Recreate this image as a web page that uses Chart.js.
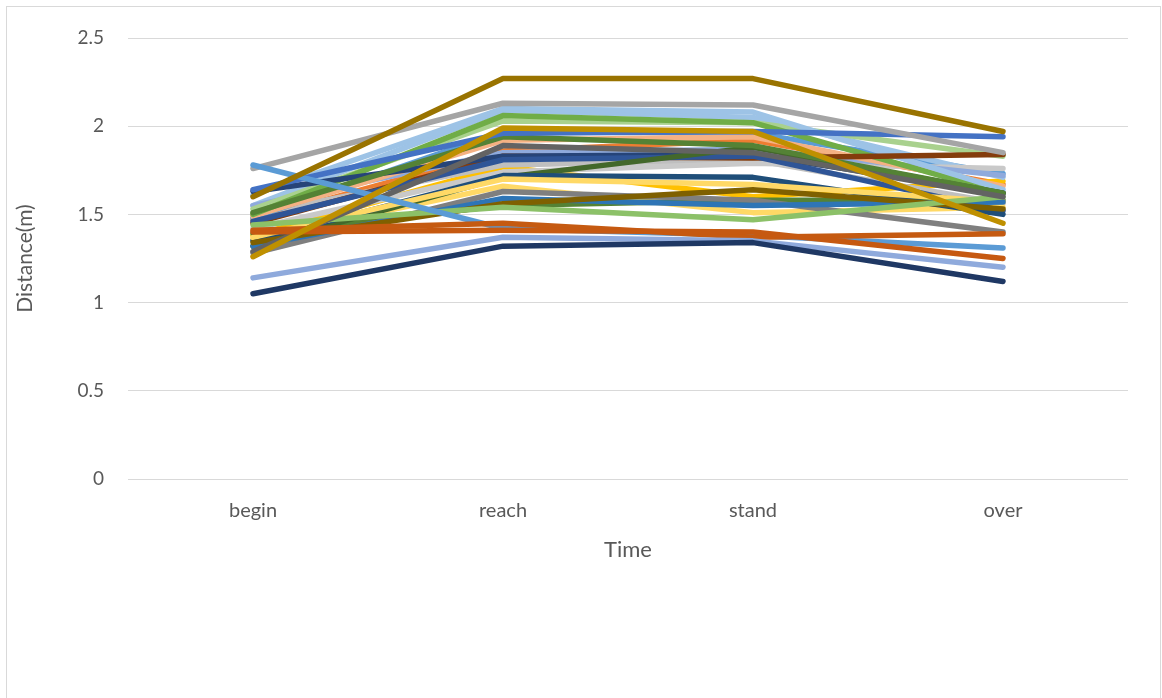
<!DOCTYPE html>
<html>
<head>
<meta charset="utf-8">
<script src="https://cdn.jsdelivr.net/npm/chart.js@4/dist/chart.umd.min.js"></script>
<style>
html,body{margin:0;padding:0;background:#fff;}
#wrap{width:1162px;height:698px;position:relative;}
</style>
</head>
<body>
<div id="wrap"><canvas id="c" width="1162" height="698"></canvas></div>
<script>
const categories = ['begin', 'reach', 'stand', 'over'];
const yTickLabels = ['0', '0.5', '1', '1.5', '2', '2.5'];
const xTitle = 'Time';
const yTitle = 'Distance(m)';

const s01 = [1.60, 2.27, 2.27, 1.97];
const s02 = [1.76, 2.13, 2.12, 1.85];
const s03 = [1.78, 1.42, 1.38, 1.31];
const s04 = [1.64, 1.96, 1.97, 1.94];
const s05 = [1.61, 2.10, 2.08, 1.64];
const s06 = [1.50, 2.06, 2.02, 1.62];
const s07 = [1.53, 2.03, 2.02, 1.83];
const s08 = [1.26, 1.99, 1.97, 1.45];
const s09 = [1.63, 1.83, 1.84, 1.62];
const s10 = [1.51, 1.94, 1.89, 1.62];
const s11 = [1.49, 1.92, 1.94, 1.66];
const s12 = [1.29, 1.89, 1.85, 1.60];
const s13 = [1.55, 1.85, 1.87, 1.72];
const s14 = [1.45, 1.83, 1.82, 1.84];
const s15 = [1.46, 1.81, 1.83, 1.52];
const s16 = [1.42, 1.74, 1.79, 1.76];
const s17 = [1.35, 1.72, 1.71, 1.50];
const s18 = [1.32, 1.71, 1.88, 1.62];
const s19 = [1.37, 1.70, 1.67, 1.57];
const s20 = [1.28, 1.63, 1.58, 1.40];
const s21 = [1.32, 1.59, 1.55, 1.57];
const s22 = [1.34, 1.56, 1.64, 1.53];
const s23 = [1.44, 1.54, 1.47, 1.60];
const s24 = [1.41, 1.45, 1.37, 1.39];
const s25 = [1.40, 1.41, 1.40, 1.25];
const s26 = [1.14, 1.37, 1.35, 1.20];
const s27 = [1.05, 1.32, 1.34, 1.12];
const s28 = [1.47, 1.86, 1.92, 1.67];
const s29 = [1.38, 1.77, 1.60, 1.69];
const s30 = [1.50, 1.78, 1.81, 1.56];
const s31 = [1.48, 1.97, 1.96, 1.73];
const s32 = [1.55, 2.09, 2.05, 1.71];
const s33 = [1.36, 1.66, 1.51, 1.54];
const s34 = [1.39, 1.55, 1.58, 1.58];

// listed top-most first (first series is drawn on top)
const seriesValues = [s01, s08, s27, s26, s25, s24, s03, s02, s04, s12, s10, s23, s22, s21, s20, s19, s17, s18, s15, s09, s14, s05, s06, s07, s11, s13, s16, s34, s33, s32, s31, s30, s29, s28];
const seriesColors = ['#997300', '#BF9000', '#1F3864', '#8FAADC', '#C65911', '#C55A11', '#5B9BD5', '#A5A5A5', '#4472C4', '#636363', '#548235', '#8CC168', '#7F6000', '#2E75B6', '#7F7F7F', '#FFD966', '#1F4E79', '#43682B', '#2F5597', '#264478', '#843C0C', '#9DC3E6', '#70AD47', '#A9D18E', '#F4B183', '#8FAADC', '#C9C9C9', '#548235', '#FFD966', '#9DC3E6', '#5B9BD5', '#BFBFBF', '#FFC000', '#ED7D31'];

const datasets = seriesValues.map((vals, i) => ({
  label: 'S' + (i + 1),
  data: vals,
  borderColor: seriesColors[i],
  backgroundColor: seriesColors[i],
  borderWidth: 5.5,
  pointRadius: 0,
  pointHoverRadius: 0,
  tension: 0,
  fill: false,
  borderCapStyle: 'round',
  borderJoinStyle: 'round'
}));

const frame = {
  id: 'frame',
  beforeDraw(chart) {
    const ctx = chart.ctx;
    ctx.save();
    ctx.fillStyle = '#ffffff';
    ctx.fillRect(0, 0, chart.width, chart.height);
    ctx.strokeStyle = '#D9D9D9';
    ctx.lineWidth = 1;
    ctx.strokeRect(6.5, 6.5, 1154, 700);
    ctx.restore();
  }
};

const FONT = 'Lato, "Open Sans", sans-serif';

new Chart(document.getElementById('c'), {
  type: 'line',
  data: { labels: categories, datasets },
  plugins: [frame],
  options: {
    responsive: false,
    animation: false,
    events: [],
    layout: { padding: { top: 38, right: 34, left: 0, bottom: 0 } },
    plugins: { legend: { display: false }, tooltip: { enabled: false } },
    scales: {
      x: {
        offset: true,
        grid: { display: false, drawTicks: false },
        border: { display: false },
        ticks: { color: '#595959', font: { family: FONT, size: 20 }, padding: 20 },
        title: { display: true, text: xTitle, color: '#595959', font: { family: FONT, size: 22 }, padding: { top: 0, bottom: 135 } },
        afterFit(s) { s.height = 219; }
      },
      y: {
        min: 0, max: 2.5,
        grid: { color: '#D9D9D9', lineWidth: 1, drawTicks: false },
        border: { display: false },
        ticks: {
          stepSize: 0.5,
          color: '#595959',
          font: { family: FONT, size: 19 },
          padding: 24,
          callback: (v, i) => yTickLabels[i]
        },
        title: { display: true, text: yTitle, color: '#595959', font: { family: FONT, size: 21 }, padding: { top: 13, bottom: 0 } },
        afterFit(s) { s.width = 128; }
      }
    }
  }
});
</script>
</body>
</html>
